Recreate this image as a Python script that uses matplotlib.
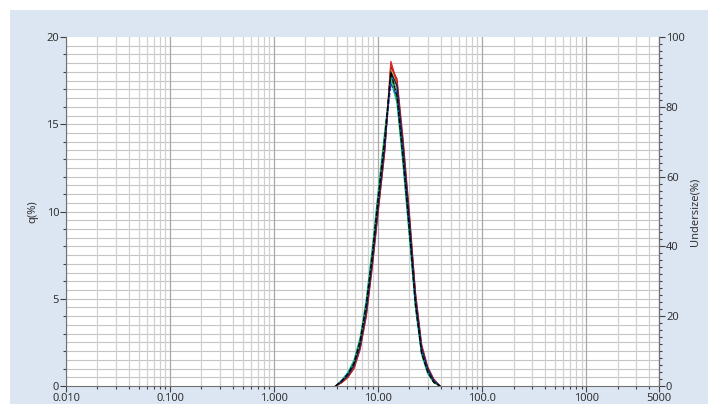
import matplotlib
matplotlib.use("Agg")
import matplotlib.pyplot as plt
from matplotlib.patches import Rectangle
from matplotlib.ticker import FixedLocator, LogLocator, MultipleLocator, NullFormatter

plt.rcParams['font.family'] = ['Noto Sans', 'DejaVu Sans']

# size channels (um)
sizes = [3.905, 4.472, 5.122, 5.867, 6.720, 7.697, 8.816, 10.097, 11.565,
         13.246, 15.172, 17.377, 19.904, 22.797, 26.111, 29.907, 34.255, 39.234]

# q(%) per measurement
q_black = [0, 0.3, 0.7, 1.3, 2.6, 4.7, 7.6, 11.0, 14.2, 18.0, 16.6, 13.0, 9.0, 4.7, 1.9, 0.8, 0.2, 0]
q_red = [0, 0.2, 0.5, 1.1, 2.2, 4.1, 7.0, 10.3, 13.5, 18.6, 17.4, 13.9, 9.8, 5.3, 2.3, 1.0, 0.3, 0]
q_green = [0, 0.3, 0.7, 1.4, 2.7, 4.8, 7.8, 11.2, 14.4, 17.8, 16.4, 12.8, 8.8, 4.6, 1.9, 0.8, 0.2, 0]
q_blue = [0, 0.3, 0.6, 1.3, 2.5, 4.5, 7.4, 10.8, 14.0, 17.3, 16.6, 13.2, 9.2, 4.9, 2.0, 0.9, 0.3, 0]
q_cyan = [0, 0.35, 0.8, 1.5, 2.8, 5.0, 8.0, 11.4, 14.6, 17.5, 16.2, 12.6, 8.6, 4.5, 1.8, 0.7, 0.2, 0]
q_orange = [0, 0.2, 0.5, 1.1, 2.3, 4.2, 7.1, 10.4, 13.6, 18.4, 17.3, 13.8, 9.6, 5.2, 2.2, 1.0, 0.3, 0]
q_darkred = [0, 0.2, 0.5, 1.0, 2.1, 4.0, 6.9, 10.2, 13.4, 18.3, 17.6, 14.1, 10.0, 5.4, 2.4, 1.1, 0.4, 0]
q_lime = [0, 0.25, 0.6, 1.2, 2.4, 4.4, 7.3, 10.6, 13.9, 18.1, 17.1, 13.6, 9.5, 5.1, 2.2, 0.9, 0.3, 0]
q_teal = [0, 0.3, 0.7, 1.3, 2.5, 4.6, 7.5, 10.9, 14.1, 17.9, 16.8, 13.3, 9.2, 4.9, 2.0, 0.8, 0.3, 0]
q_navy = [0, 0.25, 0.6, 1.2, 2.3, 4.3, 7.2, 10.5, 13.7, 18.0, 17.2, 13.7, 9.6, 5.1, 2.2, 1.0, 0.3, 0]

x_ticks = [0.01, 0.1, 1, 10, 100, 1000, 5000]
x_labels = ["0.010", "0.100", "1.000", "10.00", "100.0", "1000", "5000"]

series = [
    (q_cyan, "#20c0c0", "-"),
    (q_green, "#10a010", "-"),
    (q_lime, "#a0c020", "-"),
    (q_orange, "#e08000", "-"),
    (q_darkred, "#a02020", "-"),
    (q_red, "#e02020", "-"),
    (q_blue, "#2040d0", "--"),
    (q_teal, "#108080", "--"),
    (q_navy, "#102070", "-"),
    (q_black, "#000000", "--"),
]

fig = plt.figure(figsize=(7.08, 4.04), dpi=100)
fig.patches.append(Rectangle((10 / 708, 0), 1, 1 - 10 / 404, transform=fig.transFigure,
                             facecolor="#dce6f2", edgecolor="none", zorder=-10))

ax = fig.add_axes([66 / 708, 1 - 386 / 404, (659 - 66) / 708, (386 - 37) / 404])
ax.set_facecolor("white")

for q, col, ls in series:
    ax.plot(sizes, q, color=col, lw=0.9, ls=ls)

ax.set_xscale("log")
ax.set_xlim(0.01, 5000)
ax.set_ylim(0, 20)
ax.xaxis.set_major_locator(FixedLocator(x_ticks))
ax.set_xticklabels(x_labels)
ax.xaxis.set_minor_locator(LogLocator(base=10, subs=[2, 3, 4, 5, 6, 7, 8, 9], numticks=20))
ax.xaxis.set_minor_formatter(NullFormatter())
ax.yaxis.set_major_locator(MultipleLocator(5))
ax.yaxis.set_minor_locator(MultipleLocator(1))

# grid
ax.grid(True, which="major", axis="x", color="#a8a8a8", lw=0.9)
ax.grid(True, which="minor", axis="x", color="#d0d0d0", lw=0.9)
for v in [i * 0.5 for i in range(1, 40)]:
    ax.axhline(v, color="#c4c4c4", lw=0.8, zorder=0.5)
ax.set_axisbelow(True)

ax.spines["top"].set_visible(False)
for s in ["left", "bottom", "right"]:
    ax.spines[s].set_color("#707070")
    ax.spines[s].set_linewidth(0.8)

ax.tick_params(which="major", length=4, width=0.8, color="#404040", labelsize=8, labelcolor="#333333", pad=1)
ax.tick_params(which="minor", length=2, width=0.8, color="#404040")
ax.set_ylabel("q(%)", fontsize=8, color="#333333")
ax.yaxis.set_label_coords(-0.047, 0.5)

ax2 = ax.twinx()
ax2.set_ylim(0, 100)
ax2.yaxis.set_major_locator(MultipleLocator(20))
ax2.yaxis.set_minor_locator(MultipleLocator(2))
for s in ["top", "left", "bottom"]:
    ax2.spines[s].set_visible(False)
ax2.spines["right"].set_color("#707070")
ax2.spines["right"].set_linewidth(0.8)
ax2.tick_params(which="major", length=4, width=0.8, color="#404040", labelsize=8, labelcolor="#333333", pad=1)
ax2.tick_params(which="minor", length=2, width=0.8, color="#404040")
ax2.set_ylabel("Undersize(%)", fontsize=8, color="#333333")
ax2.yaxis.set_label_coords(1.052, 0.5)

fig.savefig("out.png", dpi=100)
